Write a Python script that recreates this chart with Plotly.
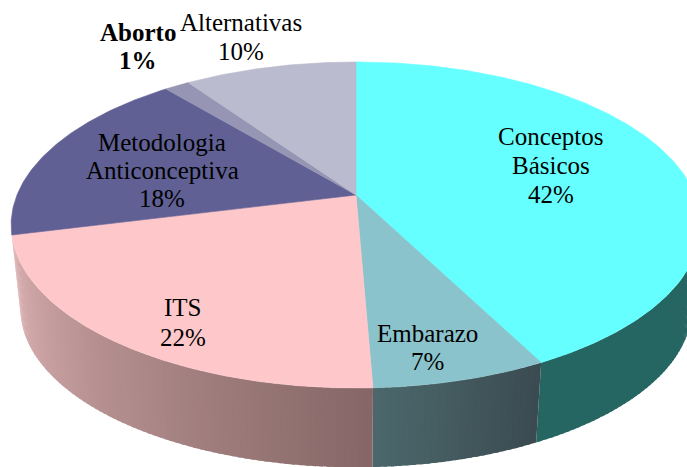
import numpy as np
import plotly.graph_objects as go

categories = ["Conceptos Básicos", "Embarazo", "ITS", "Metodologia Anticonceptiva", "Aborto", "Alternativas"]
values = [42.45, 6.9, 21.75, 17.85, 1.4, 9.65]
top_colors = ["#66FFFF", "#8AC3CC", "#FEC8CB", "#606094", "#9696B4", "#BBBBCF"]
wall_from = ["#266662", "#4C686C", "#DDB2B3", "#606094", "#9696B4", "#BBBBCF"]
wall_to = ["#266662", "#3A4A50", "#856666", "#606094", "#9696B4", "#BBBBCF"]
# label lines and their centre position in pixels
label_lines = [
    [("Conceptos", 551, 136), ("Básicos", 551, 165), ("42%", 551, 194)],
    [("Embarazo", 427, 333), ("7%", 427, 361)],
    [("ITS", 183, 307), ("22%", 183, 337)],
    [("Metodologia", 162, 142), ("Anticonceptiva", 162, 170), ("18%", 162, 198)],
    [("Aborto", 138, 32), ("1%", 138, 60)],
    [("Alternativas", 241, 22), ("10%", 241, 51)],
]

CX, CY, RX, RY, P, Q = 356, 195, 339, 157.5, 0.184, 0.0
WALL_SCALE, WALL_CY = 0.973, 279.5


def project(theta, scale=1.0, cy=CY):
    w = 1 + P * np.cos(theta) + Q * np.sin(theta)
    x = RX * np.sin(theta) / w
    y = -RY * np.cos(theta) / w
    return CX + scale * x, cy + scale * y


def mix(a, b, t):
    ca = [int(a[i:i + 2], 16) for i in (1, 3, 5)]
    cb = [int(b[i:i + 2], 16) for i in (1, 3, 5)]
    return "rgb(%d,%d,%d)" % tuple(round(p + (q - p) * t) for p, q in zip(ca, cb))


edges = 2 * np.pi * np.cumsum([0] + values) / sum(values)
fig = go.Figure()


def poly(xs, ys, color, name, lw=0.6):
    fig.add_trace(go.Scatter(x=xs, y=ys, mode="lines", fill="toself", fillcolor=color,
                             line=dict(color=color, width=lw), hoverinfo="skip", name=name))


# side wall, visible part only, split in strips to carry the gradient
VIS0, VIS1 = np.radians(85), edges[3]
for i, name in enumerate(categories):
    a0, a1 = max(edges[i], VIS0), min(edges[i + 1], VIS1)
    if a1 <= a0:
        continue
    n = max(int((a1 - a0) / np.radians(1.0)), 1)
    ts = np.linspace(a0, a1, n + 1)
    for k in range(n):
        seg = np.linspace(ts[k], min(ts[k + 1] + np.radians(0.5), a1), 3)
        xt, yt = project(seg)
        xb, yb = project(seg, WALL_SCALE, WALL_CY)
        # gradient runs from the left end of the wall to its right end
        poly(np.r_[xt, xb[::-1], xt[0]], np.r_[yt, yb[::-1], yt[0]],
             mix(wall_to[i], wall_from[i], (k + 0.5) / n), name, lw=0)

# top surface
for i, name in enumerate(categories):
    th = np.linspace(edges[i], edges[i + 1], max(int((edges[i + 1] - edges[i]) / 0.01), 4))
    xs, ys = project(th)
    poly(np.r_[CX, xs, CX], np.r_[CY, ys, CY], top_colors[i], name)

for i, lines in enumerate(label_lines):
    bold = categories[i] == "Aborto"
    for text, x, y in lines:
        fig.add_annotation(x=x, y=y, text=f"<b>{text}</b>" if bold else text, showarrow=False,
                           xanchor="center", yanchor="middle",
                           font=dict(family="Liberation Serif", size=25, color="#000000"))

fig.update_layout(width=687, height=467, margin=dict(l=0, r=0, t=0, b=0), showlegend=False,
                  paper_bgcolor="white", plot_bgcolor="white",
                  xaxis=dict(range=[0, 687], visible=False, fixedrange=True),
                  yaxis=dict(range=[467, 0], visible=False, fixedrange=True))
fig.write_html("out.html", config=dict(displayModeBar=False),
               post_script="document.body.style.margin='0';document.body.style.overflow='hidden';")
